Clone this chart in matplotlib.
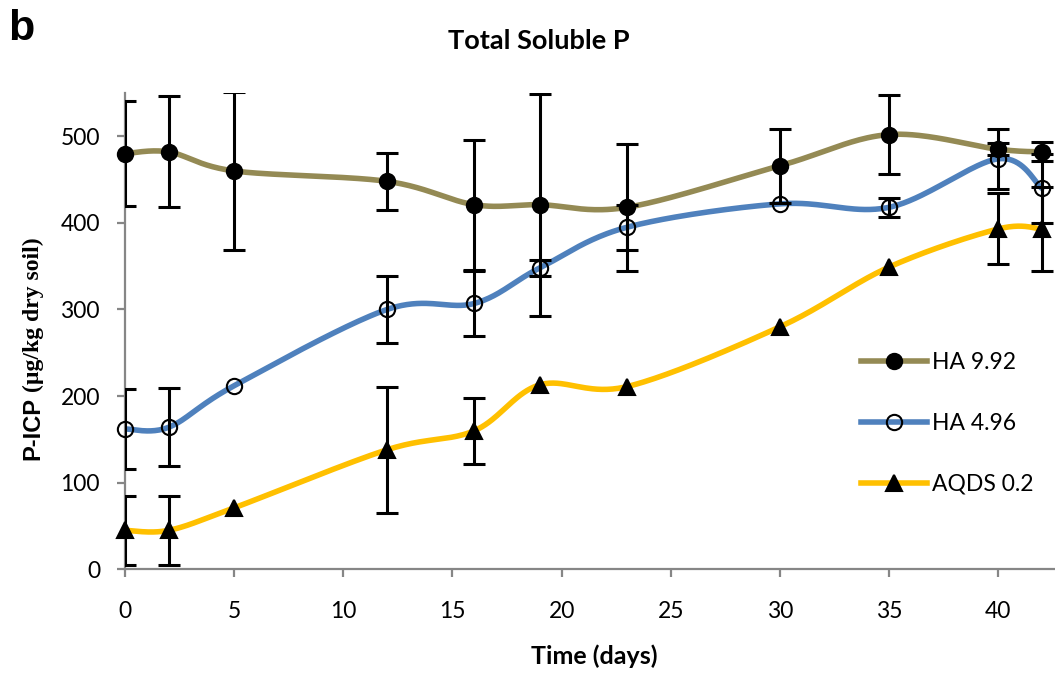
import numpy as np
import matplotlib.pyplot as plt
from matplotlib.lines import Line2D

# sampling days
days = [0, 2, 5, 12, 16, 19, 23, 30, 35, 40, 42]

# P-ICP values (ug/kg dry soil) and error bars
ha992 = [480, 482, 460, 448, 421, 421, 418, 466, 502, 485, 482]
ha992_err = [61, 64, 91, 33, 75, 128, 73, 43, 46, 7, 11]
ha496 = [162, 164, 212, 300, 307, 348, 395, 422, 418, 474, 440]
ha496_err = [46, 45, 0, 39, 38, 9, 26, 0, 11, 35, 40]
aqds = [45, 45, 71, 138, 160, 213, 211, 280, 349, 393, 393]
aqds_err = [40, 40, 0, 73, 38, 0, 0, 0, 0, 41, 48]

labels = ['HA 9.92', 'HA 4.96', 'AQDS 0.2']
colors = ['#948A54', '#4F81BD', '#FFC000']

plt.rcParams['font.family'] = ['Lato', 'DejaVu Sans']


def smooth(x, y, sx=21.83, sy=0.866, n=40):
    # Excel-like smoothed line (Catmull-Rom as cubic Bezier, in screen scale)
    p = np.column_stack([np.asarray(x, float) * sx, np.asarray(y, float) * sy])
    p = np.vstack([p[0], p, p[-1]])
    t = np.linspace(0, 1, n)[:, None]
    segs = []
    for i in range(1, len(p) - 2):
        p0, p1, p2, p3 = p[i - 1], p[i], p[i + 1], p[i + 2]
        c1 = p1 + (p2 - p0) / 6
        c2 = p2 - (p3 - p1) / 6
        segs.append((1 - t) ** 3 * p1 + 3 * (1 - t) ** 2 * t * c1
                    + 3 * (1 - t) * t ** 2 * c2 + t ** 3 * p2)
    out = np.vstack(segs)
    return out[:, 0] / sx, out[:, 1] / sy


fig = plt.figure(figsize=(10.55, 6.79), dpi=100)
ax = fig.add_axes([125 / 1055, 1 - 569.3 / 679, 43 * 21.83 / 1055, 476.3 / 679])

series = [(ha992, ha992_err, 'o', 'black'),
          (ha496, ha496_err, 'o', 'none'),
          (aqds, aqds_err, '^', 'black')]

handles = []
for (vals, err, mk, face), col, lab in zip(series, colors, labels):
    sx_, sy_ = smooth(days, vals)
    ax.plot(sx_, sy_, color=col, lw=4, zorder=2, solid_capstyle='round')
    e = np.array(err, float)
    mask = e > 0
    ax.errorbar(np.array(days)[mask], np.array(vals)[mask], yerr=e[mask],
                fmt='none', ecolor='black', elinewidth=2.2, capsize=8,
                capthick=2.2, zorder=3)
    ax.plot(days, vals, linestyle='none', marker=mk, markersize=11,
            markerfacecolor=face, markeredgecolor='black',
            markeredgewidth=1.5, zorder=4, clip_on=False)
    handles.append(Line2D([], [], color=col, lw=4, marker=mk,
                          markersize=11, markerfacecolor=face,
                          markeredgecolor='black', markeredgewidth=1.5))

ax.set_xlim(0, 43)
ax.set_ylim(0, 550)
ax.set_xticks(range(0, 45, 5))
ax.set_yticks(range(0, 600, 100))
for s in ['top', 'right']:
    ax.spines[s].set_visible(False)
for s in ['left', 'bottom']:
    ax.spines[s].set_color('#868686')
    ax.spines[s].set_linewidth(1.6)
ax.tick_params(axis='both', direction='out', length=6, width=1.6,
               color='#868686', labelsize=16.5, labelcolor='black')
ax.tick_params(axis='x', pad=17)
ax.tick_params(axis='y', pad=12)

ax.set_xlabel('Time (days)', fontsize=18, fontweight='bold', labelpad=16)

fig.text(539 / 1055, 1 - 41 / 679, 'Total Soluble P', ha='center',
         va='center', fontsize=19.5, fontweight='bold')
fig.text(8 / 1055, 1 - 29 / 679, 'b', ha='left', va='center',
         fontsize=31, fontweight='bold',
         family=['Liberation Sans', 'DejaVu Sans'])

ax.legend(handles, labels, loc='upper left',
          bbox_to_anchor=(840 / 1055, 1 - 331 / 679),
          bbox_transform=fig.transFigure, frameon=False, fontsize=16.5,
          handlelength=2.9, handletextpad=0.2, labelspacing=1.75)

# y label: sans for "P-ICP", serif for the unit part
t1 = fig.text(33 / 1055, 1 - 460 / 679, 'P-ICP', rotation=90, ha='center',
              va='bottom', fontsize=17, fontweight='bold',
              family=['Liberation Sans', 'DejaVu Sans'])
fig.canvas.draw()
bb = t1.get_window_extent()
fig.text(33 / 1055, (bb.y1 + 5) / 679, '(µg/kg dry soil)', rotation=90,
         ha='center', va='bottom', fontsize=17, fontweight='bold',
         family=['Liberation Serif', 'DejaVu Serif'])

fig.savefig('out.png', dpi=100)
